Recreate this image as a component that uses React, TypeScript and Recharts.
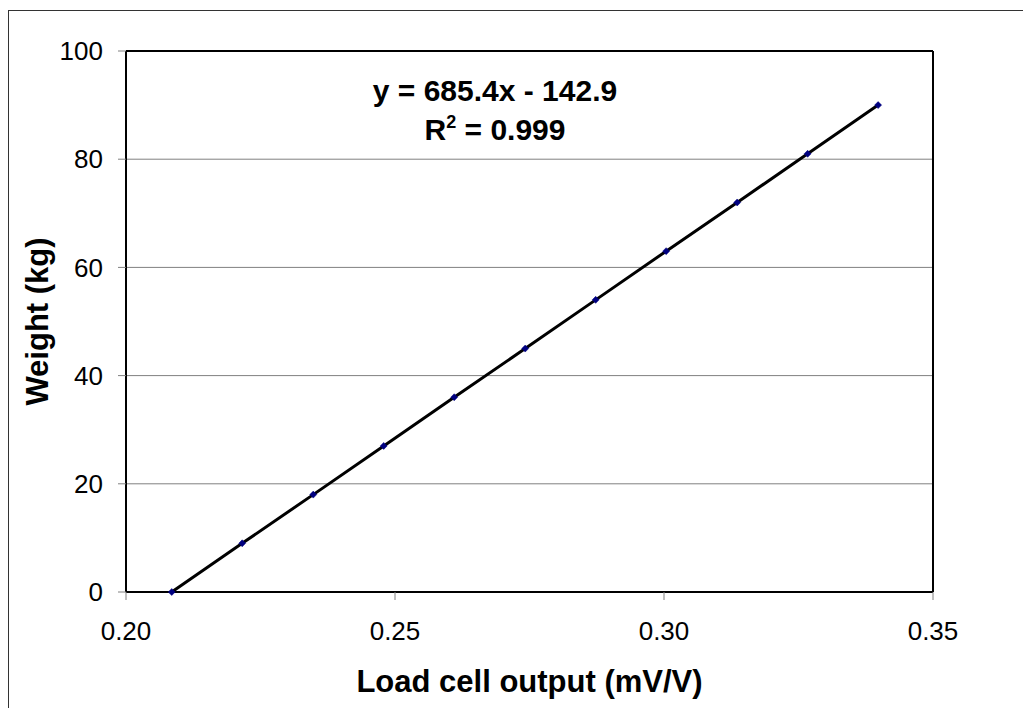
import React from "react";
import {
  ComposedChart,
  Line,
  XAxis,
  YAxis,
  CartesianGrid,
  ReferenceLine,
  Label,
} from "recharts";

// load cell calibration readings
const outputs = [0.2085, 0.2216, 0.2348, 0.2479, 0.261, 0.2742, 0.2873, 0.3004, 0.3136, 0.3267, 0.3398];
const weights = [0, 9, 18, 27, 36, 45, 54, 63, 72, 81, 90];
const xTicks = [0.2, 0.25, 0.3, 0.35];
const yTicks = [0, 20, 40, 60, 80, 100];
const equationText = "y = 685.4x - 142.9";
const r2Text = "0.999";

const FONT = "'Liberation Sans', Arial, sans-serif";
const W = 1023;
const H = 700;

const data = outputs.map((output, i) => ({ output, weight: weights[i] }));

const Diamond = (props: any) => {
  const { cx, cy } = props;
  if (cx == null || cy == null) return null;
  const s = 3.5;
  return (
    <polygon
      points={`${cx},${cy - s} ${cx + s},${cy} ${cx},${cy + s} ${cx - s},${cy}`}
      fill="#000080"
      stroke="#000080"
      strokeWidth={0.5}
    />
  );
};

export default function App() {
  return (
    <div style={{ position: "relative", width: W, height: H, overflow: "hidden", fontFamily: FONT }}>
      {/* outer chart frame, right/bottom edges fall outside the picture */}
      <div
        style={{
          position: "absolute",
          left: 0,
          top: 2,
          width: W + 50,
          height: H + 50,
          border: "1px solid #333",
          boxSizing: "border-box",
        }}
      />
      <div style={{ position: "absolute", left: 0, top: 0 }}>
        <ComposedChart
          width={W}
          height={H}
          data={data}
          margin={{ top: 43, right: 98, left: 0, bottom: 16 }}
        >
          <CartesianGrid vertical={false} stroke="#808080" strokeWidth={1} />
          <XAxis
            dataKey="output"
            type="number"
            domain={[0.2, 0.35]}
            ticks={xTicks}
            tickFormatter={(v: number) => v.toFixed(2)}
            height={100}
            tickSize={8}
            tickMargin={22}
            tick={{ fontSize: 26, fill: "#000", fontFamily: FONT }}
            tickLine={{ stroke: "#808080", strokeWidth: 1 }}
            axisLine={{ stroke: "#000", strokeWidth: 2 }}
          >
            <Label
              value="Load cell output (mV/V)"
              position="insideBottom"
              offset={0}
              style={{ fontSize: 31, fontWeight: "bold", fill: "#000", fontFamily: FONT }}
            />
          </XAxis>
          <YAxis
            type="number"
            domain={[0, 100]}
            ticks={yTicks}
            width={118}
            tickSize={8}
            tickMargin={15}
            tick={{ fontSize: 26, fill: "#000", fontFamily: FONT }}
            tickLine={{ stroke: "#808080", strokeWidth: 1 }}
            axisLine={{ stroke: "#000", strokeWidth: 2 }}
          >
            <Label
              content={() => (
                <text
                  x={29}
                  y={313.5}
                  transform="rotate(-90 29 313.5)"
                  textAnchor="middle"
                  dominantBaseline="central"
                  style={{ fontSize: 31, fontWeight: "bold", fill: "#000", fontFamily: FONT }}
                >
                  Weight (kg)
                </text>
              )}
            />
          </YAxis>
          <ReferenceLine y={100} stroke="#000" strokeWidth={2} />
          <ReferenceLine x={0.35} stroke="#000" strokeWidth={2} />
          <Line
            type="linear"
            dataKey="weight"
            stroke="#000"
            strokeWidth={3}
            dot={<Diamond />}
            activeDot={false}
            isAnimationActive={false}
          />
        </ComposedChart>
      </div>
      <div
        style={{
          position: "absolute",
          left: 287,
          top: 63,
          width: 400,
          textAlign: "center",
          fontSize: 30,
          fontWeight: "bold",
          lineHeight: "39px",
          color: "#000",
        }}
      >
        <div>{equationText}</div>
        <div>
          R
          <span style={{ fontSize: 18, position: "relative", top: -12, lineHeight: 0 }}>2</span>
          {" = " + r2Text}
        </div>
      </div>
    </div>
  );
}
